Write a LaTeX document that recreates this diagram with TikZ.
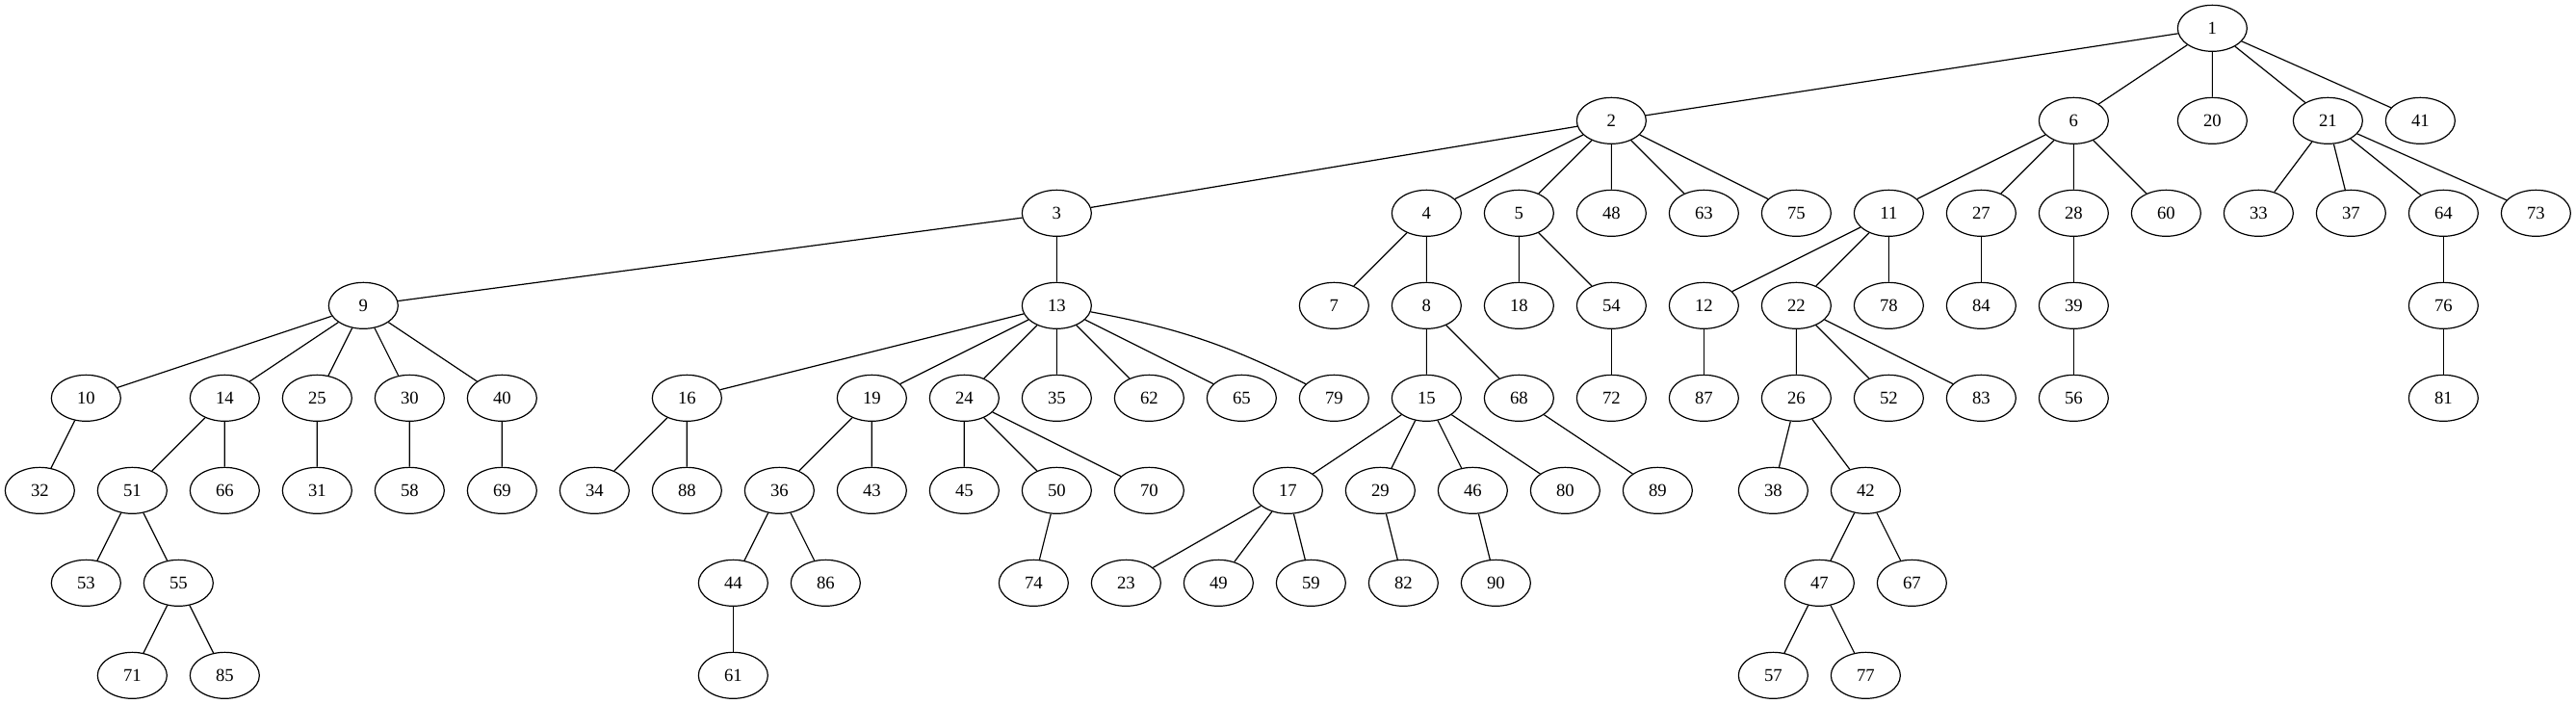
\documentclass[tikz,border=0pt]{standalone}
\usepackage{fontspec}
\setmainfont{Liberation Serif}
\usetikzlibrary{shapes.geometric}

\begin{document}
\begin{tikzpicture}[x=1pt, y=1pt,
        vert/.style={draw, ellipse, line width=0.9pt, minimum width=54pt, minimum height=36pt,
            inner sep=0pt, font=\fontsize{14}{16}\selectfont},
        edge/.style={line width=0.9pt}]
        \useasboundingbox ( 0, 0 ) rectangle ( 2006.25, -548.25 );

        % уровень 0
        \node[vert] (n1) at ( 1723, -22 ) {1};
        % уровень 1
        \node[vert] (n2) at ( 1255, -94 ) {2};
        \node[vert] (n6) at ( 1615, -94 ) {6};
        \node[vert] (n20) at ( 1723, -94 ) {20};
        \node[vert] (n21) at ( 1813, -94 ) {21};
        \node[vert] (n41) at ( 1885, -94 ) {41};
        % уровень 2
        \node[vert] (n3) at ( 823, -166 ) {3};
        \node[vert] (n4) at ( 1111, -166 ) {4};
        \node[vert] (n5) at ( 1183, -166 ) {5};
        \node[vert] (n48) at ( 1255, -166 ) {48};
        \node[vert] (n63) at ( 1327, -166 ) {63};
        \node[vert] (n75) at ( 1399, -166 ) {75};
        \node[vert] (n11) at ( 1471, -166 ) {11};
        \node[vert] (n27) at ( 1543, -166 ) {27};
        \node[vert] (n28) at ( 1615, -166 ) {28};
        \node[vert] (n60) at ( 1687, -166 ) {60};
        \node[vert] (n33) at ( 1759, -166 ) {33};
        \node[vert] (n37) at ( 1831, -166 ) {37};
        \node[vert] (n64) at ( 1903, -166 ) {64};
        \node[vert] (n73) at ( 1975, -166 ) {73};
        % уровень 3
        \node[vert] (n9) at ( 283, -238 ) {9};
        \node[vert] (n13) at ( 823, -238 ) {13};
        \node[vert] (n7) at ( 1039, -238 ) {7};
        \node[vert] (n8) at ( 1111, -238 ) {8};
        \node[vert] (n18) at ( 1183, -238 ) {18};
        \node[vert] (n54) at ( 1255, -238 ) {54};
        \node[vert] (n12) at ( 1327, -238 ) {12};
        \node[vert] (n22) at ( 1399, -238 ) {22};
        \node[vert] (n78) at ( 1471, -238 ) {78};
        \node[vert] (n84) at ( 1543, -238 ) {84};
        \node[vert] (n39) at ( 1615, -238 ) {39};
        \node[vert] (n76) at ( 1903, -238 ) {76};
        % уровень 4
        \node[vert] (n10) at ( 67, -310 ) {10};
        \node[vert] (n14) at ( 175, -310 ) {14};
        \node[vert] (n25) at ( 247, -310 ) {25};
        \node[vert] (n30) at ( 319, -310 ) {30};
        \node[vert] (n40) at ( 391, -310 ) {40};
        \node[vert] (n16) at ( 535, -310 ) {16};
        \node[vert] (n19) at ( 679, -310 ) {19};
        \node[vert] (n24) at ( 751, -310 ) {24};
        \node[vert] (n35) at ( 823, -310 ) {35};
        \node[vert] (n62) at ( 895, -310 ) {62};
        \node[vert] (n65) at ( 967, -310 ) {65};
        \node[vert] (n79) at ( 1039, -310 ) {79};
        \node[vert] (n15) at ( 1111, -310 ) {15};
        \node[vert] (n68) at ( 1183, -310 ) {68};
        \node[vert] (n72) at ( 1255, -310 ) {72};
        \node[vert] (n87) at ( 1327, -310 ) {87};
        \node[vert] (n26) at ( 1399, -310 ) {26};
        \node[vert] (n52) at ( 1471, -310 ) {52};
        \node[vert] (n83) at ( 1543, -310 ) {83};
        \node[vert] (n56) at ( 1615, -310 ) {56};
        \node[vert] (n81) at ( 1903, -310 ) {81};
        % уровень 5
        \node[vert] (n32) at ( 31, -382 ) {32};
        \node[vert] (n51) at ( 103, -382 ) {51};
        \node[vert] (n66) at ( 175, -382 ) {66};
        \node[vert] (n31) at ( 247, -382 ) {31};
        \node[vert] (n58) at ( 319, -382 ) {58};
        \node[vert] (n69) at ( 391, -382 ) {69};
        \node[vert] (n34) at ( 463, -382 ) {34};
        \node[vert] (n88) at ( 535, -382 ) {88};
        \node[vert] (n36) at ( 607, -382 ) {36};
        \node[vert] (n43) at ( 679, -382 ) {43};
        \node[vert] (n45) at ( 751, -382 ) {45};
        \node[vert] (n50) at ( 823, -382 ) {50};
        \node[vert] (n70) at ( 895, -382 ) {70};
        \node[vert] (n17) at ( 1003, -382 ) {17};
        \node[vert] (n29) at ( 1075, -382 ) {29};
        \node[vert] (n46) at ( 1147, -382 ) {46};
        \node[vert] (n80) at ( 1219, -382 ) {80};
        \node[vert] (n89) at ( 1291, -382 ) {89};
        \node[vert] (n38) at ( 1381, -382 ) {38};
        \node[vert] (n42) at ( 1453, -382 ) {42};
        % уровень 6
        \node[vert] (n53) at ( 67, -454 ) {53};
        \node[vert] (n55) at ( 139, -454 ) {55};
        \node[vert] (n44) at ( 571, -454 ) {44};
        \node[vert] (n86) at ( 643, -454 ) {86};
        \node[vert] (n74) at ( 805, -454 ) {74};
        \node[vert] (n23) at ( 877, -454 ) {23};
        \node[vert] (n49) at ( 949, -454 ) {49};
        \node[vert] (n59) at ( 1021, -454 ) {59};
        \node[vert] (n82) at ( 1093, -454 ) {82};
        \node[vert] (n90) at ( 1165, -454 ) {90};
        \node[vert] (n47) at ( 1417, -454 ) {47};
        \node[vert] (n67) at ( 1489, -454 ) {67};
        % уровень 7
        \node[vert] (n71) at ( 103, -526 ) {71};
        \node[vert] (n85) at ( 175, -526 ) {85};
        \node[vert] (n61) at ( 571, -526 ) {61};
        \node[vert] (n57) at ( 1381, -526 ) {57};
        \node[vert] (n77) at ( 1453, -526 ) {77};

        % рёбра
        \draw[edge] (n1) -- (n2) (n1) -- (n6) (n1) -- (n20) (n1) -- (n21) (n1) -- (n41);
        \draw[edge] (n2) -- (n3) (n2) -- (n4) (n2) -- (n5) (n2) -- (n48) (n2) -- (n63) (n2) -- (n75);
        \draw[edge] (n6) -- (n11) (n6) -- (n27) (n6) -- (n28) (n6) -- (n60);
        \draw[edge] (n21) -- (n33) (n21) -- (n37) (n21) -- (n64) (n21) -- (n73);
        \draw[edge] (n3) -- (n9) (n3) -- (n13);
        \draw[edge] (n4) -- (n7) (n4) -- (n8);
        \draw[edge] (n5) -- (n18) (n5) -- (n54);
        \draw[edge] (n11) -- (n12) (n11) -- (n22) (n11) -- (n78);
        \draw[edge] (n27) -- (n84) (n28) -- (n39) (n64) -- (n76);
        \draw[edge] (n9) -- (n10) (n9) -- (n14) (n9) -- (n25) (n9) -- (n30) (n9) -- (n40);
        \draw[edge] (n13) -- (n16) (n13) -- (n19) (n13) -- (n24) (n13) -- (n35) (n13) -- (n62) (n13) -- (n65);
        \draw[edge] (n13) to[bend left=8] (n79);
        \draw[edge] (n8) -- (n15) (n8) -- (n68);
        \draw[edge] (n54) -- (n72) (n12) -- (n87) (n39) -- (n56) (n76) -- (n81);
        \draw[edge] (n22) -- (n26) (n22) -- (n52) (n22) -- (n83);
        \draw[edge] (n10) -- (n32) (n25) -- (n31) (n30) -- (n58) (n40) -- (n69);
        \draw[edge] (n14) -- (n51) (n14) -- (n66);
        \draw[edge] (n16) -- (n34) (n16) -- (n88);
        \draw[edge] (n19) -- (n36) (n19) -- (n43);
        \draw[edge] (n24) -- (n45) (n24) -- (n50) (n24) -- (n70);
        \draw[edge] (n15) -- (n17) (n15) -- (n29) (n15) -- (n46) (n15) -- (n80);
        \draw[edge] (n68) -- (n89);
        \draw[edge] (n26) -- (n38) (n26) -- (n42);
        \draw[edge] (n51) -- (n53) (n51) -- (n55);
        \draw[edge] (n36) -- (n44) (n36) -- (n86);
        \draw[edge] (n50) -- (n74) (n29) -- (n82) (n46) -- (n90);
        \draw[edge] (n17) -- (n23) (n17) -- (n49) (n17) -- (n59);
        \draw[edge] (n42) -- (n47) (n42) -- (n67);
        \draw[edge] (n55) -- (n71) (n55) -- (n85);
        \draw[edge] (n44) -- (n61);
        \draw[edge] (n47) -- (n57) (n47) -- (n77);
    \end{tikzpicture}
\end{document}
